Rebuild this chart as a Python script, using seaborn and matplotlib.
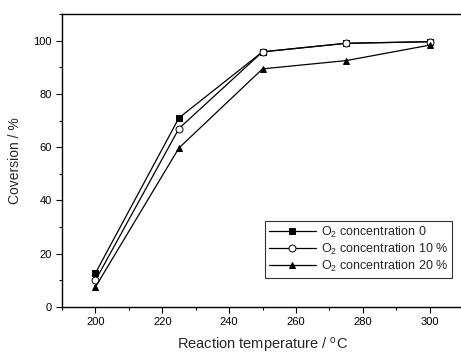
import matplotlib
matplotlib.use("Agg")
import matplotlib.pyplot as plt
import seaborn as sns
import pandas as pd
from matplotlib.ticker import MultipleLocator

temps = [200, 225, 250, 275, 300]
conv_0 = [12.7, 71.0, 95.8, 99.0, 99.6]
conv_10 = [10.0, 67.0, 95.8, 99.0, 99.6]
conv_20 = [7.5, 59.7, 89.4, 92.5, 98.3]
labels = ["O$_2$ concentration 0", "O$_2$ concentration 10 %", "O$_2$ concentration 20 %"]

sns.set_style("ticks")
plt.rcParams['font.family'] = ['Liberation Sans', 'DejaVu Sans']
plt.rcParams['mathtext.default'] = 'regular'

fig = plt.figure(figsize=(4.61, 3.54), dpi=100)
ax = fig.add_axes([62/461, 1-307/354, 401/461, 293/354])

styles = [("s", "black"), ("o", "white"), ("^", "black")]
for y, lab, (m, fc) in zip([conv_0, conv_10, conv_20], labels, styles):
    df = pd.DataFrame({"T": temps, "C": y})
    sns.lineplot(data=df, x="T", y="C", ax=ax, marker=m, color="black", lw=0.9,
                 markerfacecolor=fc, markeredgecolor="black", markersize=5,
                 markeredgewidth=0.7, label=lab)

ax.set_xlim(190, 310)
ax.set_ylim(0, 110)
ax.xaxis.set_major_locator(MultipleLocator(20))
ax.xaxis.set_minor_locator(MultipleLocator(10))
ax.yaxis.set_major_locator(MultipleLocator(20))
ax.yaxis.set_minor_locator(MultipleLocator(10))
ax.tick_params(which="both", direction="out", width=0.8, labelsize=8, colors="black")
ax.tick_params(which="major", length=4)
ax.tick_params(which="minor", length=2.5)
for s in ax.spines.values():
    s.set_linewidth(1.0)
    s.set_color("black")

ax.set_xlabel("Reaction temperature / $^{o}$C", fontsize=10.5, labelpad=6)
ax.set_ylabel("Coversion / %", fontsize=10, labelpad=8)

leg = ax.legend(loc="upper right", bbox_to_anchor=((452-62)/401, 1-(221-14)/293), fontsize=9,
                frameon=True, fancybox=False, edgecolor="black", handlelength=3.8,
                borderpad=0.3, labelspacing=0.15, handletextpad=0.4, borderaxespad=0)
leg.get_frame().set_linewidth(0.8)

fig.savefig("out.png", dpi=100)
